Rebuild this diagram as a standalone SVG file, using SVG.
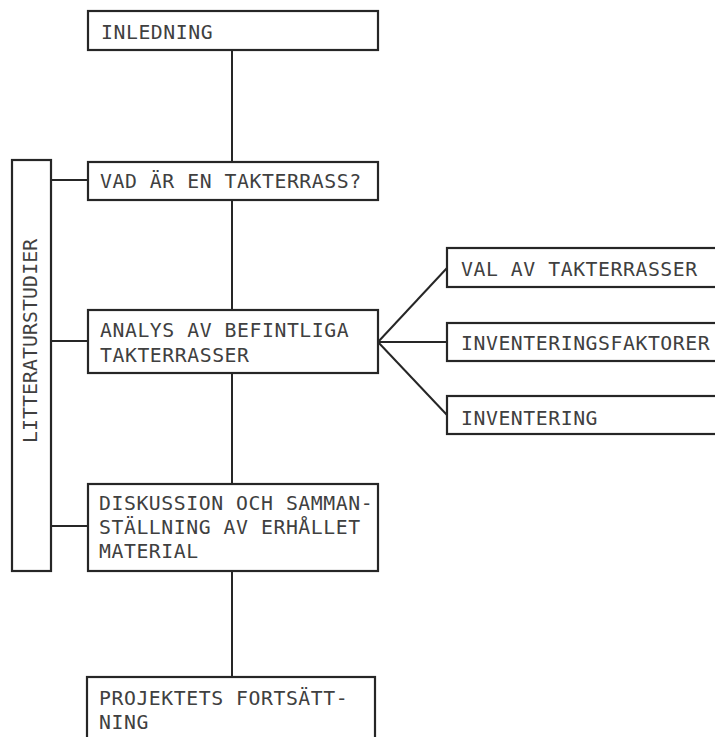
<svg xmlns="http://www.w3.org/2000/svg" width="715" height="737" viewBox="0 0 715 737">
<style>
.box{fill:none;stroke:#262626;stroke-width:2.2}
.ln{fill:none;stroke:#262626;stroke-width:2}
text{font-family:"DejaVu Sans Mono","Liberation Mono",monospace;font-size:19.8px;letter-spacing:0.55px;fill:#404040}
</style>
<rect width="715" height="737" fill="#ffffff"/>
<g id="connectors">
<line class="ln" x1="232" y1="50" x2="232" y2="162"/>
<line class="ln" x1="232" y1="200" x2="232" y2="310"/>
<line class="ln" x1="232" y1="373" x2="232" y2="484"/>
<line class="ln" x1="232" y1="571" x2="232" y2="677"/>
<line class="ln" x1="51" y1="180" x2="88" y2="180"/>
<line class="ln" x1="51" y1="341" x2="88" y2="341"/>
<line class="ln" x1="51" y1="526" x2="88" y2="526"/>
<line class="ln" x1="378" y1="342" x2="447" y2="268"/>
<line class="ln" x1="378" y1="342" x2="447" y2="342"/>
<line class="ln" x1="378" y1="342" x2="447" y2="415"/>
</g>
<g id="inledning">
<rect class="box" x="88" y="11" width="290" height="39"/>
<text x="101" y="39">INLEDNING</text>
</g>
<g id="vad">
<rect class="box" x="88" y="162" width="290" height="38"/>
<text x="100" y="188">VAD ÄR EN TAKTERRASS?</text>
</g>
<g id="analys">
<rect class="box" x="88" y="310" width="290" height="63"/>
<text x="100" y="337">ANALYS AV BEFINTLIGA</text>
<text x="100" y="362">TAKTERRASSER</text>
</g>
<g id="diskussion">
<rect class="box" x="88" y="484" width="290" height="87"/>
<text x="99" y="510">DISKUSSION OCH SAMMAN-</text>
<text x="99" y="534">STÄLLNING AV ERHÅLLET</text>
<text x="99" y="558">MATERIAL</text>
</g>
<g id="projektets">
<rect class="box" x="87" y="677" width="288" height="70"/>
<text x="99" y="705">PROJEKTETS FORTSÄTT-</text>
<text x="99" y="729">NING</text>
</g>
<g id="litteraturstudier">
<rect class="box" x="12" y="160" width="39" height="411"/>
<text transform="translate(37,443) rotate(-90)" x="0" y="0" style="letter-spacing:0.1px">LITTERATURSTUDIER</text>
</g>
<g id="val">
<rect class="box" x="447" y="248" width="280" height="39"/>
<text x="461" y="276">VAL AV TAKTERRASSER</text>
</g>
<g id="faktorer">
<rect class="box" x="447" y="323" width="280" height="38"/>
<text x="461" y="350">INVENTERINGSFAKTORER</text>
</g>
<g id="inventering">
<rect class="box" x="447" y="396" width="280" height="38"/>
<text x="461" y="425">INVENTERING</text>
</g>
</svg>
